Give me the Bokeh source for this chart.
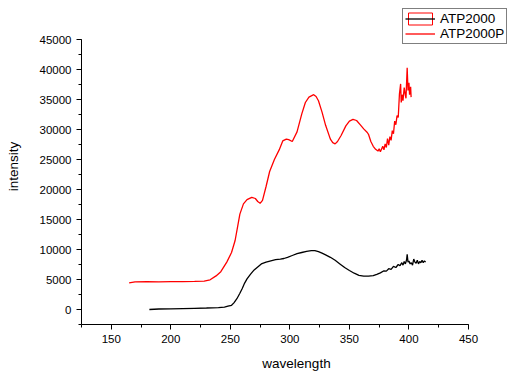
import math
from bokeh.plotting import figure
from bokeh.models import Range1d, SingleIntervalTicker, Legend, LegendItem
from bokeh.embed import file_html
from bokeh.resources import INLINE

# ATP2000 (black)
atp_wl = [182, 190, 200, 210, 220, 230, 240, 245, 248, 251, 253, 255.5, 258, 260, 262, 264,
          267, 270, 273, 276, 280, 284, 288, 292, 295, 298, 302, 306, 310, 314, 318, 321,
          324, 327, 330, 334, 338, 342, 346, 350, 354, 358, 362, 366, 370, 373, 376, 379,
          381, 383, 385, 387, 389, 391, 392.5, 394, 395, 396, 397, 398, 398.5, 399.2, 400,
          401, 402, 403, 404, 405, 406, 407, 408, 409, 410, 411, 412, 413, 414]
atp_int = [0, 80, 100, 150, 200, 250, 320, 400, 550, 700, 1100, 1800, 2700, 3500, 4400, 5100,
           5900, 6600, 7100, 7600, 7900, 8100, 8300, 8400, 8500, 8700, 9000, 9300, 9500, 9700, 9800, 9800,
           9650, 9400, 9100, 8700, 8200, 7600, 7000, 6500, 6050, 5700, 5550, 5550, 5650, 5850, 6100, 6450,
           6400, 6800, 6700, 7200, 7000, 7500, 7300, 7800, 7400, 8000, 7600, 8300, 9200, 7900, 8100,
           7600, 7800, 7400, 8400, 7900, 7700, 8200, 7600, 8000, 7800, 8200, 7800, 8100, 7900]

# ATP2000P (red)
atpp_wl = [165, 170, 180, 190, 200, 210, 220, 228, 233, 238, 242, 247, 251, 254, 256, 258, 261,
           264, 268, 271, 273, 275, 277, 280, 283, 287, 291, 294, 297, 299, 302, 306, 310, 313,
           316, 318, 320, 322, 324, 327, 330, 334, 336, 338, 340, 343, 347, 350, 353, 356, 359,
           362, 365, 366, 368, 370, 372, 374, 375, 376, 378, 379, 380, 381, 382, 383, 384, 385,
           386, 387, 388, 389, 390, 391, 392, 393, 393.5, 394.5, 395, 396, 396.6, 397.5, 398.5,
           399.2, 400, 400.5, 401.4, 401.8]
atpp_int = [4450, 4600, 4650, 4620, 4650, 4650, 4680, 4720, 4950, 5600, 6300, 7900, 9500, 11500, 13700, 15900, 17600,
            18300, 18700, 18500, 18000, 17700, 18200, 20500, 23000, 25000, 26600, 28100, 28400, 28300, 28000, 29600, 32600, 34500,
            35400, 35600, 35800, 35500, 34800, 32900, 30700, 28400, 27800, 27600, 28000, 29000, 30600, 31400, 31700, 31500, 30800,
            30100, 29500, 29200, 28000, 27200, 26700, 26400, 26800, 26300, 27200, 26600, 27600, 27000, 28500, 27400, 28800, 28200,
            29800, 29300, 31400, 30800, 32300, 32000, 35900, 37600, 34500, 35800, 34800, 37000, 36200, 35200, 40300,
            36500, 37800, 35800, 37100, 35400]

series_names = ["ATP2000", "ATP2000P"]

X_MIN, X_MAX = 125, 450
Y_MIN, Y_MAX = -2500, 45000

FONT = "Liberation Sans"

# axis extents in pixels; frame is enlarged above/right so the legend is not clipped
AX_W, AX_H = 387, 285
FR_W, FR_H = 430, 316
x_end = X_MIN + (X_MAX - X_MIN) * FR_W / AX_W
y_end = Y_MIN + (Y_MAX - Y_MIN) * FR_H / AX_H

p = figure(frame_width=FR_W, frame_height=FR_H, output_backend="svg", toolbar_location=None,
           x_range=Range1d(X_MIN, x_end), y_range=Range1d(Y_MIN, y_end),
           min_border_left=81, min_border_right=3, min_border_top=8, min_border_bottom=46)
p.outline_line_color = None
p.xgrid.visible = False
p.ygrid.visible = False
p.background_fill_color = "white"
p.border_fill_color = "white"

r1 = p.line(atp_wl, atp_int, line_color="black", line_width=1.3)
r2 = p.line(atpp_wl, atpp_int, line_color="#ff0000", line_width=1.3)
# legend-only red selection frame (NaN position: nothing drawn in the plot)
nan = math.nan
rbox = p.rect(x=[nan], y=[nan], width=[1], height=[1], fill_color=None,
              line_color="#ff0000", line_width=1)

xa = p.xaxis[0]
xa.ticker = SingleIntervalTicker(interval=50, num_minor_ticks=2)
xa.bounds = (X_MIN, X_MAX)
ya = p.yaxis[0]
ya.ticker = SingleIntervalTicker(interval=5000, num_minor_ticks=2)
ya.bounds = (Y_MIN, Y_MAX)
for ax in (xa, ya):
    ax.axis_line_color = "black"
    ax.axis_line_width = 1
    ax.major_tick_line_color = "black"
    ax.minor_tick_line_color = "black"
    ax.major_tick_in = 0
    ax.major_tick_out = 5
    ax.minor_tick_in = 0
    ax.minor_tick_out = 3
    ax.major_label_text_font = FONT
    ax.major_label_text_font_size = "11.5px"
    ax.major_label_text_color = "#000000"
    ax.axis_label_text_font = FONT
    ax.axis_label_text_font_size = "13.5px"
    ax.axis_label_text_font_style = "normal"
    ax.axis_label_text_color = "#000000"
xa.axis_label = "wavelength"
ya.axis_label = "intensity"
xa.major_label_standoff = 5
ya.major_label_standoff = 5
xa.axis_label_standoff = 10
ya.axis_label_standoff = 16
ya.formatter.use_scientific = False

legend = Legend(items=[LegendItem(label=series_names[0], renderers=[rbox, r1]),
                       LegendItem(label=series_names[1], renderers=[r2])],
                location=(321, 280))
legend.border_line_color = "black"
legend.border_line_width = 1
legend.background_fill_color = "white"
legend.background_fill_alpha = 1
legend.label_text_font = FONT
legend.label_text_font_size = "13.5px"
legend.label_text_color = "black"
legend.glyph_width = 30
legend.glyph_height = 15
legend.label_height = 15
legend.label_standoff = 5
legend.padding = 2
legend.spacing = 0
legend.margin = 0
p.add_layout(legend, "center")

open("out.html", "w").write(file_html(p, INLINE))
